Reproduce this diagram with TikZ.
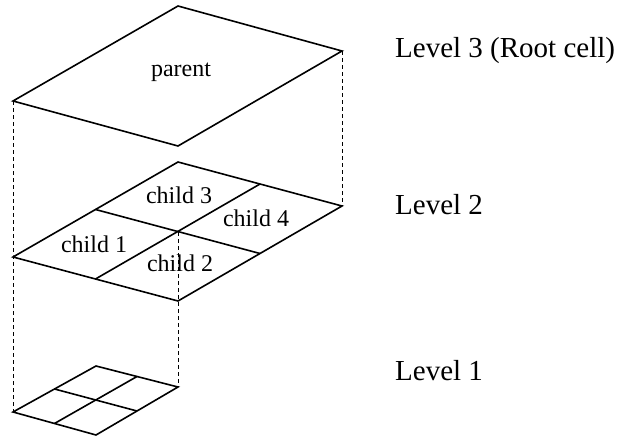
\documentclass[tikz,border=0pt]{standalone}
\usepackage{fontspec}
\setmainfont{Liberation Serif}
\usepackage{tikz}
\usetikzlibrary{calc}

\begin{document}
\begin{tikzpicture}[x=1pt,y=-1pt,
		cell/.style={line width=1.6pt,line join=miter},
		proj/.style={dash pattern=on 4pt off 3pt,line width=0.9pt},
		lbl/.style={font=\fontsize{24}{26}\selectfont,inner sep=0pt,anchor=base},
		lvl/.style={font=\fontsize{29}{32}\selectfont,inner sep=0pt,anchor=base west}]
		\useasboundingbox (0,0) rectangle (622,439);
		% level 3: the root cell
		\coordinate (pl) at (13,101);
		\coordinate (pt) at (178,6);
		\coordinate (pr) at (342,51);
		\coordinate (pb) at (178,146);
		\draw[cell] (pl) -- (pt) -- (pr) -- (pb) -- cycle;
		\node[lbl] (parent) at (181,76) {parent};
		% level 2: four children
		\coordinate (cl) at (13,257);
		\coordinate (ct) at (178,162);
		\coordinate (cr) at (342,206);
		\coordinate (cb) at (178,301);
		\coordinate (cc) at (178,232);
		\draw[cell] (cl) -- (ct) -- (cr) -- (cb) -- cycle;
		\draw[cell] ($(cl)!0.5!(ct)$) -- ($(cr)!0.5!(cb)$);
		\draw[cell] ($(ct)!0.5!(cr)$) -- ($(cb)!0.5!(cl)$);
		\node[lbl] (child3) at (179,203) {child 3};
		\node[lbl] (child4) at (256,226) {child 4};
		\node[lbl] (child1) at (94,252) {child 1};
		\node[lbl] (child2) at (180,271) {child 2};
		% level 1
		\coordinate (gl) at (13,412);
		\coordinate (gt) at (96,366);
		\coordinate (gr) at (178,387);
		\coordinate (gb) at (96,435);
		\draw[cell] (gl) -- (gt) -- (gr) -- (gb) -- cycle;
		\draw[cell] ($(gl)!0.5!(gt)$) -- ($(gr)!0.5!(gb)$);
		\draw[cell] ($(gt)!0.5!(gr)$) -- ($(gb)!0.5!(gl)$);
		% projections between levels
		\draw[proj] (pl) -- (cl) -- (gl);
		\draw[proj] (pr) -- (cr);
		\draw[proj] (cc) -- (gr);
		% level names
		\node[lvl] (lev3) at (395,57) {Level 3 (Root cell)};
		\node[lvl] (lev2) at (395,214) {Level 2};
		\node[lvl] (lev1) at (395,380) {Level 1};
	\end{tikzpicture}
\end{document}
